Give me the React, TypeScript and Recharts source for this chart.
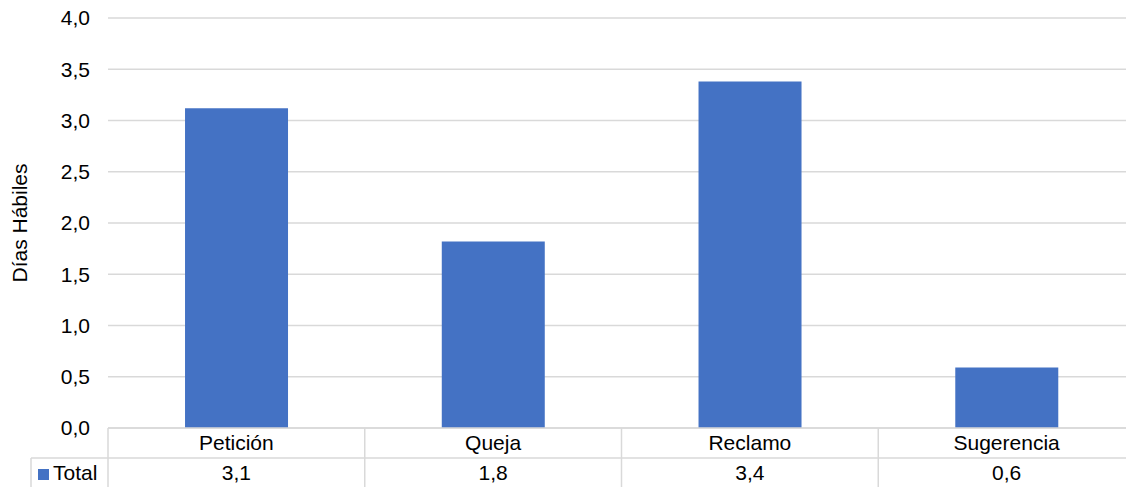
import { BarChart, Bar, XAxis, YAxis, CartesianGrid } from "recharts";

const categories = ["Petición", "Queja", "Reclamo", "Sugerencia"];
const totals = [3.12, 1.82, 3.38, 0.59];
const yTicks = [0, 0.5, 1, 1.5, 2, 2.5, 3, 3.5, 4];
const seriesName = "Total";

const data = categories.map((name, i) => ({ name, total: totals[i] }));

const W = 1136;
const H = 487;
const X_H = 59;
const M = { top: 18, right: 1, bottom: 0, left: 0 };
const Y_W = 108;
const BAND = (W - M.left - M.right - Y_W) / categories.length;
const PLOT_BOTTOM = H - M.bottom - X_H;
const ROW_LINE = PLOT_BOTTOM + 30;
const GRID = "#d9d9d9";
const BLUE = "#4472c4";
const FONT = "'Liberation Sans', Arial, sans-serif";
const FS = 21;

const fmt = (v: number) => v.toFixed(1).replace(".", ",");

function TableTick(props: any) {
  const { x, payload } = props;
  const i = payload.index;
  const left = x - BAND / 2;
  const right = x + BAND / 2;
  return (
    <g>
      <line x1={left} y1={PLOT_BOTTOM} x2={left} y2={H} stroke={GRID} strokeWidth={1.5} />
      {i === categories.length - 1 && (
        <line x1={right} y1={PLOT_BOTTOM} x2={right} y2={H} stroke={GRID} strokeWidth={1.5} />
      )}
      <line x1={left} y1={ROW_LINE} x2={right} y2={ROW_LINE} stroke={GRID} strokeWidth={1.5} />
      <text x={x} y={PLOT_BOTTOM + 22} textAnchor="middle" fontSize={FS} fill="#000" fontFamily={FONT}>
        {payload.value}
      </text>
      <text x={x} y={H - 7} textAnchor="middle" fontSize={FS} fill="#000" fontFamily={FONT}>
        {fmt(totals[i])}
      </text>
      {i === 0 && (
        <g>
          <line x1={31} y1={ROW_LINE} x2={left} y2={ROW_LINE} stroke={GRID} strokeWidth={1.5} />
          <line x1={31} y1={ROW_LINE} x2={31} y2={H} stroke={GRID} strokeWidth={1.5} />
          <rect x={38} y={469} width={11} height={11} fill={BLUE} />
          <text x={53} y={H - 7} fontSize={FS} fill="#000" fontFamily={FONT}>
            {seriesName}
          </text>
        </g>
      )}
    </g>
  );
}

export default function App() {
  return (
    <div style={{ position: "absolute", left: 0, top: 0, width: 1126, height: H, overflow: "hidden", background: "#fff" }}>
      <BarChart width={W} height={H} data={data} margin={M} barCategoryGap="30%">
        <CartesianGrid vertical={false} stroke={GRID} strokeWidth={1.5} />
        <XAxis
          dataKey="name"
          axisLine={{ stroke: GRID, strokeWidth: 1.5 }}
          tickLine={false}
          tick={<TableTick />}
          interval={0}
          height={X_H}
        />
        <YAxis
          width={Y_W}
          domain={[0, 4]}
          ticks={yTicks}
          tickFormatter={fmt}
          axisLine={false}
          tickLine={false}
          tickMargin={12}
          tick={{ fill: "#000", fontSize: FS, fontFamily: FONT }}
          label={{
            content: (p: any) => {
              const vb = p.viewBox;
              const cy = vb.y + vb.height / 2;
              return (
                <text
                  x={19}
                  y={cy}
                  transform={`rotate(-90 19 ${cy})`}
                  textAnchor="middle"
                  dominantBaseline="central"
                  fontSize={FS}
                  fill="#000"
                  fontFamily={FONT}
                >
                  Días Hábiles
                </text>
              );
            },
          }}
        />
        <Bar dataKey="total" name={seriesName} fill={BLUE} isAnimationActive={false} />
      </BarChart>
    </div>
  );
}
